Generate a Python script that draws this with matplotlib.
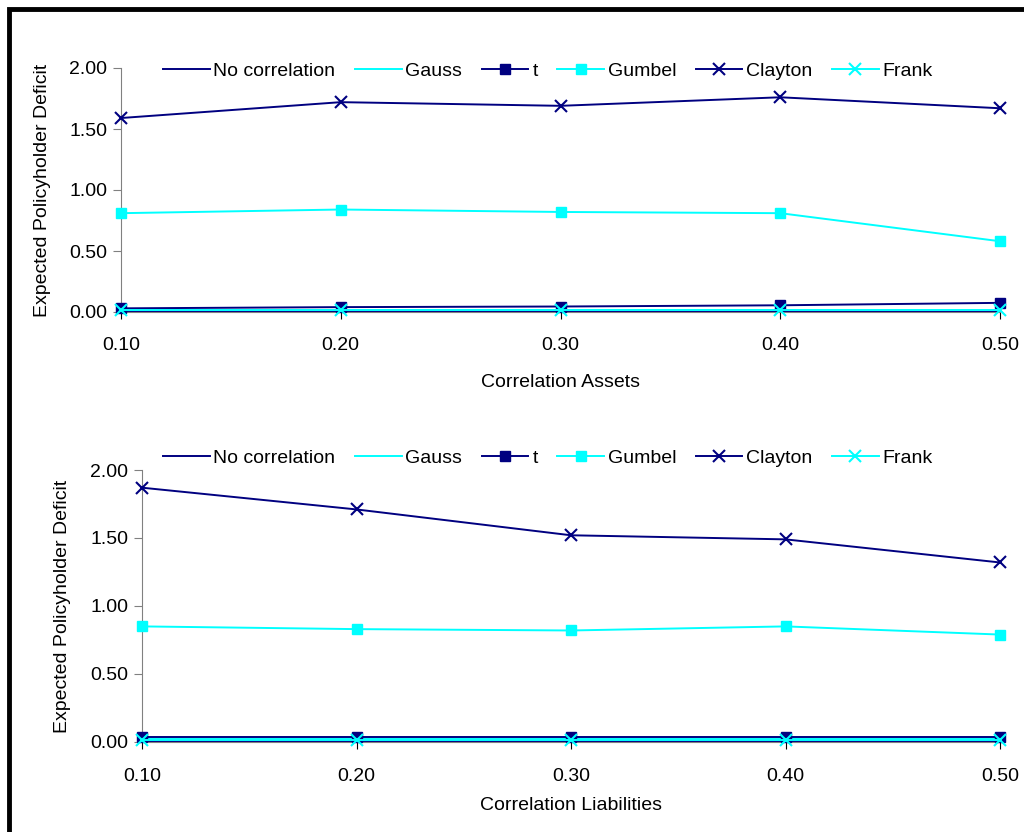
import matplotlib
matplotlib.use("Agg")
import matplotlib.pyplot as plt
from matplotlib.patches import Rectangle

plt.rcParams['font.family'] = ['Liberation Sans', 'DejaVu Sans']

x_vals = [0.10, 0.20, 0.30, 0.40, 0.50]
x_ticklabels = ["0.10", "0.20", "0.30", "0.40", "0.50"]
y_ticks = [0.0, 0.5, 1.0, 1.5, 2.0]
y_ticklabels = ["0.00", "0.50", "1.00", "1.50", "2.00"]

series_names = ["No correlation", "Gauss", "t", "Gumbel", "Clayton", "Frank"]

# Top panel: correlation assets
assets_nocorr = [0.01, 0.01, 0.01, 0.01, 0.01]
assets_gauss = [0.02, 0.02, 0.02, 0.02, 0.02]
assets_t = [0.03, 0.04, 0.045, 0.055, 0.075]
assets_gumbel = [0.81, 0.84, 0.82, 0.81, 0.58]
assets_clayton = [1.59, 1.72, 1.69, 1.76, 1.67]
assets_frank = [0.015, 0.015, 0.015, 0.015, 0.015]

# Bottom panel: correlation liabilities
liab_nocorr = [0.01, 0.01, 0.01, 0.01, 0.01]
liab_gauss = [0.02, 0.02, 0.02, 0.02, 0.02]
liab_t = [0.035, 0.035, 0.035, 0.035, 0.035]
liab_gumbel = [0.85, 0.83, 0.82, 0.85, 0.79]
liab_clayton = [1.87, 1.71, 1.52, 1.49, 1.32]
liab_frank = [0.015, 0.015, 0.015, 0.015, 0.015]

NAVY = '#000080'
CYAN = '#00FFFF'
styles = [
    dict(color=NAVY, marker=None),
    dict(color=CYAN, marker=None),
    dict(color=NAVY, marker='s', markersize=7),
    dict(color=CYAN, marker='s', markersize=7),
    dict(color=NAVY, marker='x', markersize=9, markeredgewidth=1.5),
    dict(color=CYAN, marker='x', markersize=9, markeredgewidth=1.5),
]

FS = 14

fig = plt.figure(figsize=(10.24, 8.32), dpi=100)

# outer frame (thick black border)
fig.patches.append(Rectangle((9 / 1024, -0.1), 1.2, 1 - 9 / 832 + 0.1, transform=fig.transFigure,
                             fill=False, edgecolor='black', linewidth=3.5))


def panel(rect, data, xlabel, legend_y, tickpad, labelpad, ylab_x):
    ax = fig.add_axes(rect)
    handles = []
    for name, vals, st in zip(series_names, data, styles):
        h, = ax.plot(x_vals, vals, linewidth=1.4, clip_on=False, label=name, zorder=3, **st)
        handles.append(h)
    ax.set_xlim(0.10, 0.50)
    ax.set_ylim(0, 2.0)
    ax.set_xticks(x_vals)
    ax.set_xticklabels(x_ticklabels, fontsize=FS)
    ax.set_yticks(y_ticks)
    ax.set_yticklabels(y_ticklabels, fontsize=FS)
    for s in ['top', 'right']:
        ax.spines[s].set_visible(False)
    ax.spines['left'].set_color('#808080')
    ax.spines['bottom'].set_color('#808080')
    ax.tick_params(axis='y', direction='out', length=6, color='#808080', pad=4)
    ax.tick_params(axis='x', direction='inout', length=10, color='black', pad=tickpad)
    ax.set_ylabel("Expected Policyholder Deficit", fontsize=FS)
    ax.set_xlabel(xlabel, fontsize=FS, labelpad=labelpad)
    ax.yaxis.set_label_coords(ylab_x, 0.5)
    fig.legend(handles=handles, loc='center', bbox_to_anchor=(0.535, legend_y),
               ncol=6, frameon=False, fontsize=FS, handlelength=2.4,
               handletextpad=0.2, columnspacing=1.0, borderaxespad=0)
    return ax


ax1 = panel([121 / 1024, 1 - 312 / 832, (1000 - 121) / 1024, (312 - 68) / 832],
            [assets_nocorr, assets_gauss, assets_t, assets_gumbel, assets_clayton, assets_frank],
            "Correlation Assets", 1 - 71 / 832, 13, 14.5, -0.080)

ax2 = panel([142 / 1024, 1 - 742 / 832, (1000 - 142) / 1024, (742 - 470) / 832],
            [liab_nocorr, liab_gauss, liab_t, liab_gumbel, liab_clayton, liab_frank],
            "Correlation Liabilities", 1 - 458 / 832, 14, 8, -0.083)

fig.savefig("out.png", dpi=100)
